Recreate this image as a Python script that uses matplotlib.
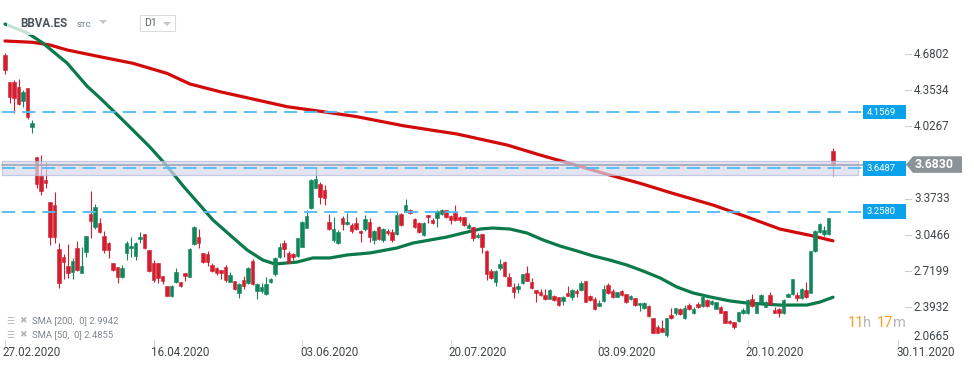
import matplotlib
matplotlib.use("Agg")
import matplotlib.pyplot as plt
import numpy as np
from matplotlib.patches import Rectangle, Polygon

plt.rcParams['font.family'] = ['Roboto', 'DejaVu Sans']
plt.rcParams['lines.scale_dashes'] = False

# ---------------- data ----------------
symbol = "BBVA.ES"
opens = [4.672, 4.425, 4.425, 4.380, 4.259, 4.371, 4.019, 3.754, 3.582, 3.544,
         3.342, 3.318, 2.918, 2.846, 2.767, 2.711, 2.927, 2.707, 2.896, 3.237,
         3.122, 3.158, 3.038, 2.978, 2.792, 2.756, 2.671, 2.882, 2.927, 2.857,
         3.008, 3.056, 2.912, 2.792, 2.792, 2.680, 2.590, 2.500, 2.626, 2.620,
         2.701, 2.671, 2.966, 3.032, 2.882, 2.876, 2.776, 2.747, 2.731, 2.756,
         2.626, 2.632, 2.527, 2.641, 2.611, 2.812, 2.541, 2.544, 2.512, 2.626,
         2.692, 2.846, 2.972, 2.882, 2.876, 2.858, 2.941, 3.113, 3.288, 3.474,
         3.505, 3.453, 3.162, 2.998, 2.972, 3.198, 3.146, 3.137, 3.153, 3.083,
         3.098, 3.162, 3.002, 3.117, 3.002, 3.083, 3.071, 3.056, 3.234, 3.258,
         3.273, 3.189, 3.158, 3.047, 3.228, 3.183, 3.198, 3.237, 3.273, 3.219,
         3.248, 3.212, 3.207, 3.108, 3.117, 3.026, 3.053, 2.906, 2.722, 2.620,
         2.752, 2.801, 2.665, 2.575, 2.560, 2.611, 2.701, 2.620, 2.551, 2.536,
         2.506, 2.470, 2.497, 2.491, 2.452, 2.527, 2.491, 2.545, 2.551, 2.632,
         2.497, 2.470, 2.409, 2.452, 2.596, 2.542, 2.491, 2.542, 2.512, 2.467,
         2.476, 2.416, 2.386, 2.409, 2.295, 2.214, 2.205, 2.145, 2.325, 2.346,
         2.379, 2.295, 2.415, 2.340, 2.424, 2.409, 2.460, 2.424, 2.379, 2.400,
         2.361, 2.274, 2.265, 2.274, 2.340, 2.340, 2.470, 2.346, 2.436, 2.400,
         2.506, 2.370, 2.379, 2.340, 2.490, 2.515, 2.506, 2.476, 2.551, 2.527,
         2.903, 3.077, 3.053, 3.056, 3.805]
highs = [4.692, 4.425, 4.446, 4.452, 4.356, 4.371, 4.085, 3.754, 3.769, 3.709,
         3.342, 3.433, 2.972, 2.876, 2.966, 2.837, 2.996, 2.942, 3.038, 3.444,
         3.327, 3.198, 3.083, 2.987, 2.797, 2.762, 2.776, 2.996, 3.032, 2.987,
         3.077, 3.056, 2.912, 2.822, 2.792, 2.680, 2.590, 2.596, 2.752, 2.620,
         2.707, 2.927, 3.128, 3.098, 2.882, 2.903, 2.797, 2.761, 2.731, 2.776,
         2.716, 2.632, 2.617, 2.677, 2.756, 2.828, 2.617, 2.617, 2.665, 2.662,
         2.846, 2.978, 3.002, 2.903, 2.882, 3.023, 3.176, 3.273, 3.550, 3.649,
         3.523, 3.498, 3.234, 3.212, 3.092, 3.221, 3.243, 3.158, 3.212, 3.092,
         3.228, 3.198, 3.092, 3.128, 3.108, 3.101, 3.101, 3.258, 3.243, 3.372,
         3.279, 3.198, 3.167, 3.162, 3.228, 3.198, 3.273, 3.279, 3.273, 3.228,
         3.318, 3.219, 3.212, 3.153, 3.122, 3.062, 3.053, 2.912, 2.737, 2.731,
         2.828, 2.812, 2.701, 2.611, 2.611, 2.695, 2.767, 2.662, 2.551, 2.557,
         2.560, 2.557, 2.506, 2.491, 2.497, 2.587, 2.560, 2.560, 2.635, 2.632,
         2.506, 2.485, 2.461, 2.596, 2.611, 2.560, 2.536, 2.551, 2.512, 2.506,
         2.476, 2.431, 2.440, 2.415, 2.295, 2.235, 2.280, 2.301, 2.391, 2.391,
         2.386, 2.415, 2.431, 2.395, 2.440, 2.512, 2.467, 2.461, 2.445, 2.406,
         2.361, 2.280, 2.265, 2.355, 2.386, 2.467, 2.512, 2.445, 2.512, 2.454,
         2.536, 2.400, 2.386, 2.467, 2.527, 2.650, 2.536, 2.572, 2.626, 2.906,
         3.092, 3.153, 3.128, 3.203, 3.835]
lows = [4.497, 4.236, 4.145, 4.220, 4.200, 4.091, 3.965, 3.469, 3.408, 3.469,
        2.957, 2.972, 2.572, 2.647, 2.656, 2.647, 2.725, 2.701, 2.851, 3.017,
        3.099, 3.062, 2.887, 2.842, 2.725, 2.611, 2.656, 2.822, 2.851, 2.822,
        2.972, 2.918, 2.716, 2.626, 2.611, 2.605, 2.497, 2.490, 2.617, 2.581,
        2.632, 2.665, 2.957, 2.927, 2.792, 2.770, 2.716, 2.686, 2.650, 2.626,
        2.620, 2.551, 2.481, 2.557, 2.602, 2.596, 2.467, 2.521, 2.506, 2.611,
        2.680, 2.837, 2.846, 2.792, 2.822, 2.846, 2.938, 3.108, 3.279, 3.469,
        3.327, 3.318, 3.092, 2.986, 2.966, 3.092, 3.137, 3.068, 3.092, 2.986,
        3.086, 2.986, 2.963, 3.002, 2.987, 3.047, 2.987, 3.047, 3.131, 3.252,
        3.237, 3.113, 3.068, 3.038, 3.158, 3.146, 3.117, 3.228, 3.198, 3.146,
        3.176, 3.167, 3.128, 3.101, 2.996, 3.017, 2.882, 2.641, 2.647, 2.590,
        2.731, 2.671, 2.587, 2.476, 2.527, 2.605, 2.632, 2.557, 2.445, 2.497,
        2.460, 2.467, 2.455, 2.407, 2.416, 2.497, 2.460, 2.485, 2.545, 2.440,
        2.455, 2.370, 2.407, 2.440, 2.515, 2.476, 2.485, 2.497, 2.431, 2.460,
        2.409, 2.361, 2.379, 2.310, 2.166, 2.160, 2.175, 2.129, 2.289, 2.325,
        2.325, 2.286, 2.370, 2.334, 2.391, 2.400, 2.400, 2.415, 2.377, 2.340,
        2.250, 2.244, 2.199, 2.265, 2.334, 2.334, 2.400, 2.340, 2.431, 2.394,
        2.415, 2.340, 2.310, 2.334, 2.485, 2.506, 2.455, 2.470, 2.481, 2.521,
        2.891, 3.062, 3.038, 3.047, 3.580]
closes = [4.536, 4.295, 4.281, 4.229, 4.340, 4.115, 4.055, 3.505, 3.447, 3.519,
          3.026, 3.026, 2.611, 2.801, 2.701, 2.812, 2.731, 2.767, 3.038, 3.176,
          3.297, 3.071, 2.912, 2.912, 2.731, 2.671, 2.747, 2.972, 2.948, 2.972,
          3.032, 2.927, 2.725, 2.641, 2.656, 2.635, 2.500, 2.590, 2.716, 2.587,
          2.677, 2.918, 3.122, 2.972, 2.801, 2.806, 2.725, 2.707, 2.707, 2.641,
          2.686, 2.557, 2.602, 2.587, 2.747, 2.602, 2.602, 2.581, 2.602, 2.650,
          2.837, 2.936, 2.921, 2.797, 2.851, 3.023, 3.167, 3.219, 3.544, 3.550,
          3.393, 3.378, 3.101, 3.098, 3.077, 3.146, 3.167, 3.086, 3.098, 3.062,
          3.189, 3.032, 3.083, 3.008, 3.098, 3.062, 3.002, 3.228, 3.137, 3.318,
          3.243, 3.117, 3.077, 3.153, 3.207, 3.153, 3.264, 3.273, 3.212, 3.183,
          3.183, 3.183, 3.137, 3.137, 3.017, 3.047, 2.936, 2.692, 2.656, 2.722,
          2.785, 2.680, 2.590, 2.530, 2.587, 2.692, 2.635, 2.572, 2.527, 2.506,
          2.470, 2.551, 2.461, 2.416, 2.485, 2.497, 2.551, 2.521, 2.611, 2.445,
          2.461, 2.377, 2.431, 2.560, 2.521, 2.485, 2.530, 2.506, 2.440, 2.499,
          2.416, 2.431, 2.431, 2.316, 2.166, 2.166, 2.175, 2.295, 2.295, 2.386,
          2.331, 2.386, 2.377, 2.379, 2.400, 2.485, 2.409, 2.452, 2.440, 2.346,
          2.256, 2.250, 2.214, 2.349, 2.370, 2.460, 2.406, 2.436, 2.506, 2.445,
          2.424, 2.346, 2.340, 2.460, 2.515, 2.650, 2.476, 2.557, 2.485, 2.903,
          3.083, 3.144, 3.092, 3.198, 3.683]

sma200_idx = [0, 6.2, 10, 13.8, 21.1, 28.4, 36, 41.1, 47.8, 56, 62.7, 70.7, 78.2,
              88.4, 96, 100.4, 111.6, 118.9, 126.2, 133.8, 141.1, 148.4, 157.3,
              164.9, 172.2, 179.6, 184]
sma200_val = [4.798, 4.786, 4.762, 4.717, 4.656, 4.597, 4.506, 4.410, 4.340, 4.266,
              4.205, 4.160, 4.115, 4.034, 3.986, 3.959, 3.859, 3.769, 3.685, 3.595,
              3.514, 3.423, 3.318, 3.210, 3.101, 3.038, 2.9942]
sma50_idx = [0, 5, 8.4, 11.6, 13.8, 18.2, 21.1, 24.9, 28.4, 32.2, 36, 39.6, 43.3,
             46.2, 50, 53.8, 57.3, 60, 64.9, 68.4, 72.2, 76, 81.1, 87.1, 90.7, 98.2,
             101.8, 105.6, 108.4, 112.2, 116, 119.6, 123.3, 127.1, 130.7, 134.4,
             138.2, 141.8, 145.6, 149.3, 152.9, 156.7, 161.1, 164.9, 172.2, 178.2,
             181.1, 184]
sma50_val = [4.951, 4.870, 4.780, 4.672, 4.599, 4.392, 4.284, 4.135, 3.995, 3.841,
             3.670, 3.489, 3.318, 3.183, 3.047, 2.912, 2.821, 2.785, 2.803, 2.840,
             2.840, 2.867, 2.885, 2.930, 2.975, 3.029, 3.065, 3.101, 3.110, 3.101,
             3.065, 3.002, 2.948, 2.903, 2.858, 2.821, 2.776, 2.722, 2.659, 2.578,
             2.524, 2.488, 2.452, 2.433, 2.415, 2.415, 2.442, 2.4855]

levels = [4.1569, 3.6487, 3.2580]
zone_low, zone_high = 3.589, 3.715
last_price = 3.6830
y_ticks = [4.6802, 4.3534, 4.0267, 3.3733, 3.0466, 2.7199, 2.3932, 2.0665]
date_labels = ["27.02.2020", "16.04.2020", "03.06.2020", "20.07.2020",
               "03.09.2020", "20.10.2020", "30.11.2020"]
date_pos = [0, 33, 66, 99, 132, 165, 198.5]
legend_lines = ["SMA [200,  0] 2.9942", "SMA [50,  0] 2.4855"]

# ---------------- layout helpers (pixel -> data) ----------------
PX0, PXS = 5.0, 4.5
YTOP, YS = 5.168, 0.009025
def X(px):
    return (px - PX0) / PXS
def Y(py):
    return YTOP - py * YS

RED = "#D21F2F"
GREEN = "#10865A"
TXT = "#3F454A"

fig = plt.figure(figsize=(9.74, 3.68), dpi=100)
ax = fig.add_axes([0, 0, 1, 1])
ax.set_xlim(X(0), X(974))
ax.set_ylim(Y(368), Y(0))
ax.axis("off")

# SMA lines
ax.plot(sma200_idx, sma200_val, color="#D20A0A", lw=2.3, zorder=2,
        solid_capstyle="round", solid_joinstyle="round")
ax.plot(sma50_idx, sma50_val, color="#0B7A4B", lw=2.3, zorder=2,
        solid_capstyle="round", solid_joinstyle="round")

# candles
o = np.array(opens); h = np.array(highs); l = np.array(lows); c = np.array(closes)
idx = np.arange(len(o))
cols = np.where(c >= o, GREEN, RED)
ax.vlines(idx, l, h, colors=cols, lw=0.8, zorder=3)
body_lo = np.minimum(o, c)
body_h = np.maximum(np.abs(c - o), YS * 1.2)
ax.bar(idx, body_h, bottom=body_lo, width=0.68, color=cols, edgecolor=cols,
       lw=0.4, zorder=4)

# header fade box
ax.add_patch(Rectangle((X(7), Y(35)), X(200) - X(7), Y(0) - Y(35),
                       fc="white", ec="none", alpha=0.78, zorder=5))

# zone band
ax.add_patch(Rectangle((X(2), zone_low), X(858) - X(2), zone_high - zone_low,
                       fc="#D6D9EE", ec="#B5B9DA", lw=0.9, alpha=0.7, zorder=6))
ax.plot([X(2), X(906)], [last_price, last_price], color="#9EA2AC", lw=1.1, zorder=7)

# dashed levels with labels
for lv in levels:
    ax.plot([X(2), X(863)], [lv, lv], color="#4DBDF3", lw=1.3,
            dashes=(9.5, 5), zorder=7)
    ax.add_patch(Rectangle((X(863), lv - 7.2 * YS), X(906) - X(863), 14.4 * YS,
                           fc="#0AA2EA", ec="none", zorder=8))
    ax.text(X(866.5), lv, f"{lv:.4f}", color="white", fontsize=6.8,
            va="center", ha="left", zorder=9)

# y tick labels
for i, t in enumerate(y_ticks):
    yy = t if i < len(y_ticks) - 1 else t + 7 * YS
    if i < len(y_ticks) - 1:
        ax.plot([X(905), X(911)], [t, t], color="#CDD1D5", lw=0.8, zorder=7)
    ax.text(X(914), yy, f"{t:.4f}", color=TXT, fontsize=8.4,
            va="center", ha="left", zorder=9)

# last price tag
tag = [(X(906), last_price), (X(913), last_price + 8.3 * YS),
       (X(962), last_price + 8.3 * YS), (X(962), last_price - 8.3 * YS),
       (X(913), last_price - 8.3 * YS)]
ax.add_patch(Polygon(tag, closed=True, fc="#8A9397", ec="none", zorder=8))
ax.text(X(915), last_price + 0.3 * YS, f"{last_price:.4f}", color="white",
        fontsize=8.8, fontweight="semibold", va="center", ha="left", zorder=9)

# date labels
for p, lab in zip(date_pos, date_labels):
    ax.plot([p, p], [Y(340), Y(346)], color="#D5D8DB", lw=0.8, zorder=7)
    ax.text(p - 0.45, Y(352), lab, color=TXT, fontsize=8.4, va="center",
            ha="left", zorder=9)

# legend lines bottom-left
for k, s in enumerate(legend_lines):
    yy = Y(321 + 14 * k)
    ax.text(X(6.5), yy, "\u2630", color="#B4B9BE", fontsize=6.5,
            family="DejaVu Sans", va="center", ha="left", zorder=9)
    ax.text(X(19), yy, "\u2716", color="#B4B9BE", fontsize=6.5,
            family="DejaVu Sans", va="center", ha="left", zorder=9)
    ax.text(X(32), yy, s, color="#7F868C", fontsize=6.8, va="center",
            ha="left", zorder=9)

# countdown
ORANGE = "#F5A01F"
for txt, px, colr in [("11", 848, ORANGE), ("h", 863.5, "#B3B7BB"),
                      ("17", 877, ORANGE), ("m", 893.5, "#B3B7BB")]:
    ax.text(X(px), Y(323), txt, color=colr, fontsize=10.5, va="center",
            ha="left", zorder=9)

# header
ax.text(X(20.5), Y(23.5), symbol, color="#4B545A", fontsize=8.4,
        fontweight="bold", va="center", ha="left", zorder=9)
ax.text(X(77), Y(24.3), "STC", color="#8696A1", fontsize=5.6,
        fontweight="bold", va="center", ha="left", zorder=9)
ax.add_patch(Polygon([(X(99), Y(20)), (X(107), Y(20)), (X(103), Y(24))],
                     closed=True, fc="#C3C7CB", ec="none", zorder=9))
ax.add_patch(Rectangle((X(139.5), Y(31)), X(174.5) - X(139.5), Y(14.5) - Y(31),
                       fc="white", ec="#DADDE0", lw=0.8, zorder=9))
ax.text(X(144), Y(23.5), "D1", color="#59626A", fontsize=7.6, va="center",
        ha="left", zorder=10)
ax.add_patch(Polygon([(X(163), Y(22)), (X(171), Y(22)), (X(167), Y(26))],
                     closed=True, fc="#C3C7CB", ec="none", zorder=10))

fig.savefig("out.png", dpi=100)
